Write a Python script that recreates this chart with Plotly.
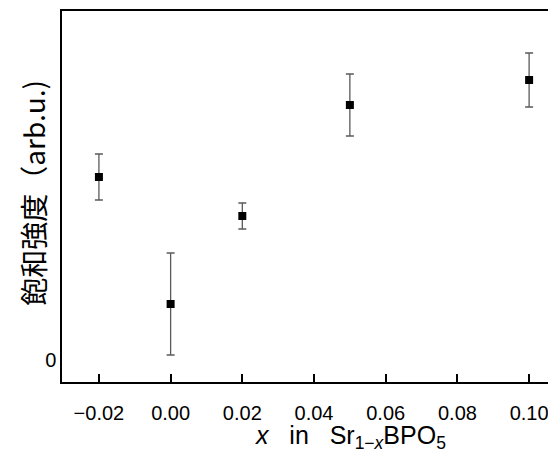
import plotly.graph_objects as go

# Sr(1-x)BPO5 composition vs saturation intensity (arb. units)
x_vals = [-0.02, 0.00, 0.02, 0.05, 0.10]
intensity = [1.83, 0.56, 1.44, 2.55, 2.80]
intensity_err = [0.23, 0.51, 0.13, 0.31, 0.27]

x_ticks = [-0.02, 0.00, 0.02, 0.04, 0.06, 0.08, 0.10]
x_tick_text = ["\u22120.02", "0.00", "0.02", "0.04", "0.06", "0.08", "0.10"]
y_ticks = [0]
y_tick_text = ["0"]

fig = go.Figure()
fig.add_trace(go.Scatter(
    x=x_vals,
    y=intensity,
    mode="markers",
    marker=dict(symbol="square", size=8, color="black"),
    error_y=dict(type="data", array=intensity_err, visible=True,
                 color="#5a5a5a", thickness=1.3, width=4),
    showlegend=False,
))

fig.update_xaxes(
    range=[-0.0303, 0.1075],
    tickvals=x_ticks, ticktext=x_tick_text,
    ticks="inside", ticklen=8, tickwidth=1.5, tickcolor="black",
    showline=True, linecolor="black", linewidth=1.5, mirror=True,
    showgrid=False, zeroline=False, automargin=False,
    tickfont=dict(family="Liberation Sans, Arial", size=20, color="black"),
    ticklabelstandoff=12,
)
fig.update_yaxes(
    range=[-0.22, 3.49],
    tickvals=y_ticks, ticktext=y_tick_text,
    ticks="",
    showline=True, linecolor="black", linewidth=1.5,
    showgrid=False, zeroline=False, automargin=False,
    tickfont=dict(family="Liberation Sans, Arial", size=20, color="black"),
)

fig.add_annotation(
    text="飽和強度（arb.u.)",
    xref="paper", yref="paper", x=-0.059, y=0.51,
    xanchor="center", yanchor="middle", textangle=-90, showarrow=False,
    font=dict(family="Noto Sans CJK JP", size=28, color="black"),
)
fig.add_annotation(
    text="<i>x</i>   in   Sr<sub>1\u2212<i>x</i></sub>BPO<sub>5</sub>",
    xref="paper", yref="paper", x=0.583, y=-0.1,
    xanchor="center", yanchor="top", showarrow=False,
    font=dict(family="Liberation Sans", size=25, color="black"),
)

# page body adds an 8px offset, so the figure is sized to fit the window
fig.update_layout(
    width=548, height=450,
    margin=dict(l=54, r=0, t=3, b=76),
    plot_bgcolor="white", paper_bgcolor="white",
)

fig.write_html("out.html")
